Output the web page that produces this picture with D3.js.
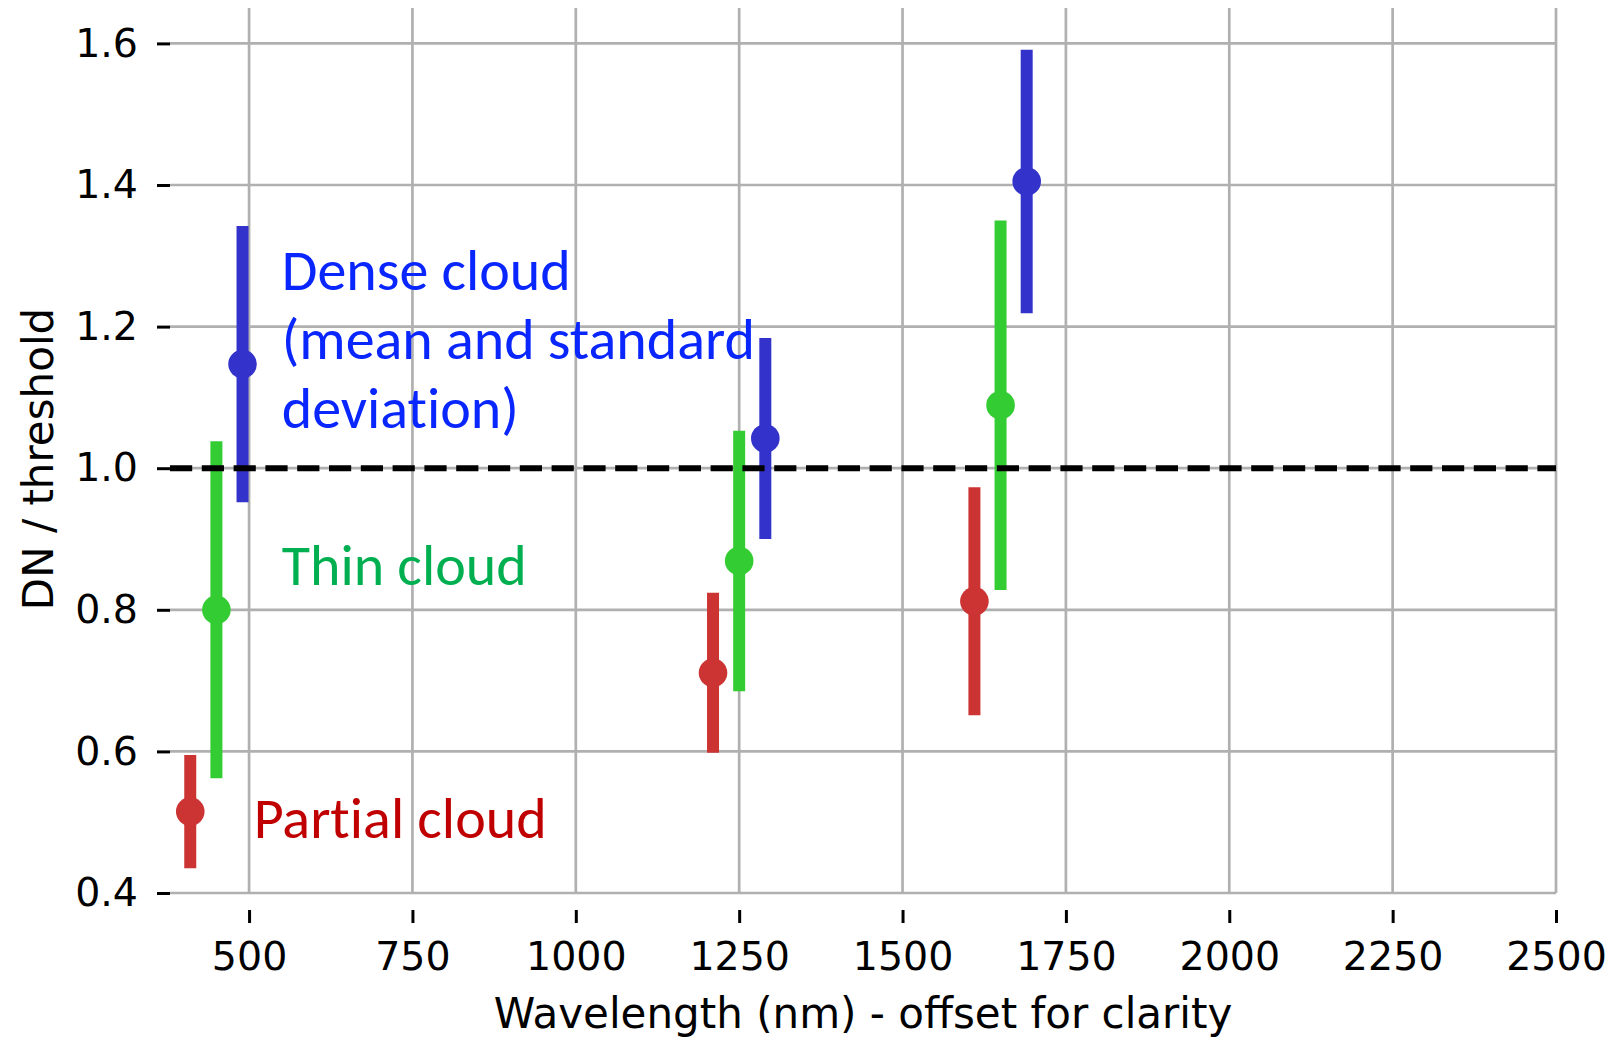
<!DOCTYPE html>
<html>
<head>
<meta charset="utf-8">
<script src="https://cdn.jsdelivr.net/npm/d3@7"></script>
<style>
  html, body { margin: 0; padding: 0; background: #fff; }
  svg { display: block; }
  .note { font-variant-ligatures: none; font-feature-settings: "liga" 0, "dlig" 0; }
</style>
</head>
<body>
<svg id="chart" width="1618" height="1037"></svg>
<script>
// data
const wavelengths = [450, 1250, 1650];
const offsets = {partial: -40, thin: 0, dense: 40};

const partialMean = [0.515, 0.711, 0.812];
const partialSd   = [0.080, 0.113, 0.161];
const thinMean    = [0.800, 0.869, 1.089];
const thinSd      = [0.238, 0.184, 0.261];
const denseMean   = [1.147, 1.042, 1.405];
const denseSd     = [0.195, 0.142, 0.186];

const xTicks = [500, 750, 1000, 1250, 1500, 1750, 2000, 2250, 2500];
const yTicks = [0.4, 0.6, 0.8, 1.0, 1.2, 1.4, 1.6];
const threshold = 1.0;

const labels = [
  {lines: ['Dense cloud', '(mean and standard', 'deviation)'], x: 550, y: 1.251, color: '#0a26ff'},
  {lines: ['Thin cloud'], x: 550, y: 0.835, color: '#00b050'},
  {lines: ['Partial cloud'], x: 507, y: 0.477, color: '#c00000'}
];

const margin = {top: 8, right: 62, bottom: 144, left: 170};

const svg = d3.select('#chart');
const W = +svg.attr('width'), H = +svg.attr('height');

const x = d3.scaleLinear().domain([379, 2500]).range([margin.left, W - margin.right]);
const y = d3.scaleLinear().domain([0.4, 1.65]).range([H - margin.bottom, margin.top]);

const tickFont = 'DejaVu Sans, sans-serif';
const gridColor = '#b0b0b0';

// grid
svg.append('g').selectAll('line').data(xTicks).enter().append('line')
  .attr('x1', d => x(d)).attr('x2', d => x(d))
  .attr('y1', y(1.65)).attr('y2', y(0.4))
  .attr('stroke', gridColor).attr('stroke-width', 2.7);

svg.append('g').selectAll('line').data(yTicks).enter().append('line')
  .attr('x1', x(379)).attr('x2', x(2500))
  .attr('y1', d => y(d)).attr('y2', d => y(d))
  .attr('stroke', gridColor).attr('stroke-width', 2.7);

// axes (no spines, outward ticks)
const xAxis = d3.axisBottom(x).tickValues(xTicks).tickSize(13).tickPadding(19).tickFormat(d3.format('d'));
const gx = svg.append('g').attr('transform', `translate(0,${y(0.4) + 17})`).call(xAxis);
gx.select('.domain').remove();
gx.selectAll('.tick line').attr('stroke', '#000').attr('stroke-width', 3);
gx.selectAll('.tick text').attr('font-family', tickFont).attr('font-size', 39.5).attr('fill', '#000');

const yAxis = d3.axisLeft(y).tickValues(yTicks).tickSize(13).tickPadding(19).tickFormat(d3.format('.1f'));
const gy = svg.append('g').attr('transform', `translate(${x(379)},0)`).call(yAxis);
gy.select('.domain').remove();
gy.selectAll('.tick line').attr('stroke', '#000').attr('stroke-width', 3);
gy.selectAll('.tick text').attr('font-family', tickFont).attr('font-size', 39.5).attr('fill', '#000');

// axis titles
svg.append('text')
  .attr('x', (x(379) + x(2500)) / 2).attr('y', 1028)
  .attr('text-anchor', 'middle')
  .attr('font-family', tickFont).attr('font-size', 42)
  .text('Wavelength (nm) - offset for clarity');

svg.append('text')
  .attr('transform', `translate(53,459) rotate(-90)`)
  .attr('text-anchor', 'middle')
  .attr('font-family', tickFont).attr('font-size', 42)
  .text('DN / threshold');

// error bars + means
const series = [
  {key: 'partial', mean: partialMean, sd: partialSd, color: '#cc3333'},
  {key: 'thin', mean: thinMean, sd: thinSd, color: '#33cc33'},
  {key: 'dense', mean: denseMean, sd: denseSd, color: '#3333cc'}
];

series.forEach(function(s) {
  const pts = wavelengths.map((w, i) => ({wl: w + offsets[s.key], m: s.mean[i], sd: s.sd[i]}));
  const g = svg.append('g').attr('class', 'series-' + s.key);
  g.selectAll('line').data(pts).enter().append('line')
    .attr('x1', d => x(d.wl)).attr('x2', d => x(d.wl))
    .attr('y1', d => y(d.m - d.sd)).attr('y2', d => y(d.m + d.sd))
    .attr('stroke', s.color).attr('stroke-width', 12);
  g.selectAll('circle').data(pts).enter().append('circle')
    .attr('cx', d => x(d.wl)).attr('cy', d => y(d.m))
    .attr('r', 14.3).attr('fill', s.color);
});

// threshold line
svg.append('line')
  .attr('x1', x(379)).attr('x2', x(2500))
  .attr('y1', y(threshold)).attr('y2', y(threshold))
  .attr('stroke', '#000').attr('stroke-width', 6)
  .attr('stroke-dasharray', '22.2,9.6');

// annotations
labels.forEach(function(l) {
  const t = svg.append('text')
    .attr('class', 'note')
    .attr('x', x(l.x)).attr('y', y(l.y))
    .attr('font-family', 'Carlito, Calibri, Lato, sans-serif')
    .attr('font-size', 58).attr('fill', l.color);
  l.lines.forEach(function(line, i) {
    t.append('tspan').attr('x', x(l.x)).attr('dy', i === 0 ? 0 : 69).text(line);
  });
});
</script>
</body>
</html>
